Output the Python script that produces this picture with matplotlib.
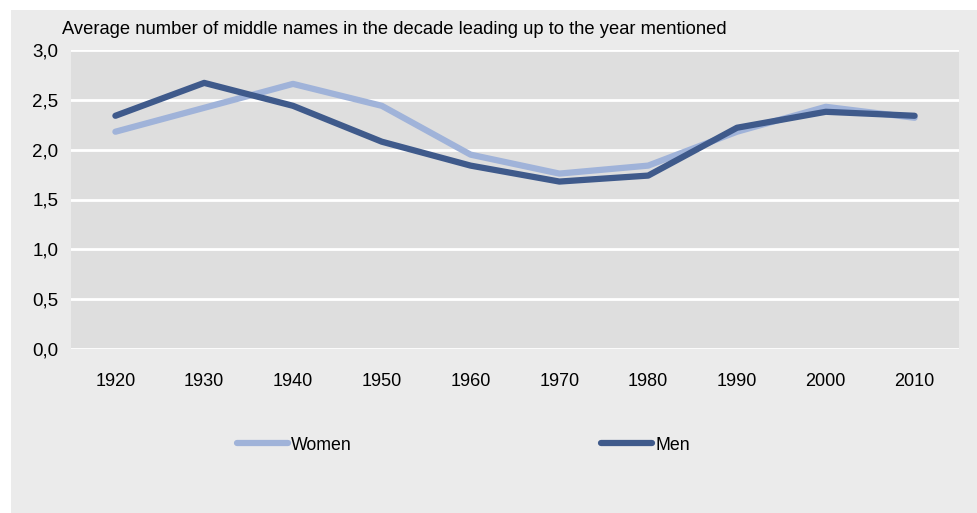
import matplotlib.pyplot as plt
from matplotlib.patches import Rectangle

years = ['1920', '1930', '1940', '1950', '1960', '1970', '1980', '1990', '2000', '2010']
women = [2.18, 2.42, 2.66, 2.44, 1.95, 1.76, 1.84, 2.18, 2.43, 2.32]
men = [2.34, 2.67, 2.44, 2.08, 1.84, 1.68, 1.74, 2.22, 2.38, 2.34]
yticks = [0.0, 0.5, 1.0, 1.5, 2.0, 2.5, 3.0]
title = 'Average number of middle names in the decade leading up to the year mentioned'

plt.rcParams['font.family'] = ['Liberation Sans', 'DejaVu Sans']

W, H = 978, 513
fig = plt.figure(figsize=(W / 100, H / 100), dpi=100, facecolor='white')
# outer grey panel
fig.patches.append(Rectangle((11 / W, 0), 1 - 11 / W, 1 - 10 / H,
                             transform=fig.transFigure, facecolor='#ebebeb',
                             edgecolor='none', zorder=-1))

ax = fig.add_axes([71 / W, 1 - 349 / H, (959 - 71) / W, (349 - 50) / H])
ax.set_zorder(1)
ax.set_facecolor('#dedede')
x = list(range(len(years)))
ax.plot(x, women, color='#a0b3d9', lw=4.5, solid_capstyle='round', label='Women')
ax.plot(x, men, color='#3f5a8b', lw=4.5, solid_capstyle='round', label='Men')

ax.set_xlim(-0.5, len(years) - 0.5)
ax.set_ylim(0, 3.0)
ax.set_yticks(yticks)
ax.set_yticklabels([f'{v:.1f}'.replace('.', ',') for v in yticks])
ax.set_xticks(x)
ax.set_xticklabels(years)
ax.tick_params(length=0, labelsize=13, colors='black')
ax.tick_params(axis='y', labelsize=13.5, pad=9)
ax.tick_params(axis='x', pad=17)
ax.grid(axis='y', color='white', lw=2)
ax.set_axisbelow(True)
for s in ax.spines.values():
    s.set_visible(False)

fig.text(62 / W, 1 - 29 / H, title, fontsize=13.2, va='center', ha='left')

leg = fig.legend(loc='center left', bbox_to_anchor=(237 / W, 1 - 445 / H), ncol=2,
                 frameon=False, fontsize=12.8, handlelength=2.85, handletextpad=0.2,
                 columnspacing=14.0, borderpad=0, borderaxespad=0)

fig.savefig('out.png', dpi=100, facecolor='white')
